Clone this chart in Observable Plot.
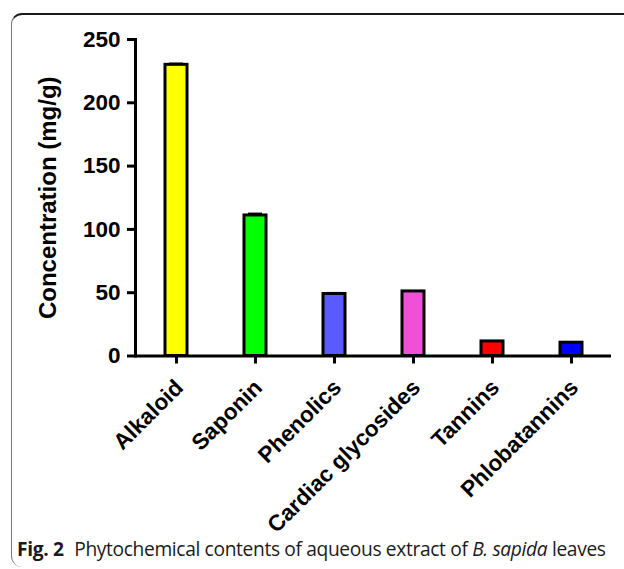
<!DOCTYPE html>
<html>
<head>
<meta charset="utf-8">
<script src="https://cdn.jsdelivr.net/npm/d3@7"></script>
<script src="https://cdn.jsdelivr.net/npm/@observablehq/plot@0.6"></script>
<style>
  html, body { margin: 0; padding: 0; background: #fff; }
  #wrap { position: relative; width: 624px; height: 569px; overflow: hidden; }
  #frame { position: absolute; left: 11px; top: 13px; width: 700px; height: 554px;
    border-top: 2px solid #1a1a1a; border-left: 1px solid #7a7a7a;
    border-top-left-radius: 11px; border-bottom-left-radius: 11px; box-sizing: border-box; }
  #chart { position: absolute; left: 0; top: 0; }
  #caption { position: absolute; left: 17px; top: 535px; font-family: "Open Sans", sans-serif;
    font-size: 19.2px; color: #1a1a1a; white-space: nowrap; letter-spacing: -0.35px; }
  #caption b { font-weight: 700; margin-right: 6px; }
</style>
</head>
<body>
<div id="wrap">
  <div id="frame"></div>
  <div id="chart"></div>
  <div id="caption"><b>Fig. 2</b> Phytochemical contents of aqueous extract of <i>B. sapida</i> leaves</div>
</div>
<script>
const categories = ["Alkaloid", "Saponin", "Phenolics", "Cardiac glycosides", "Tannins", "Phlobatannins"];
const values = [230, 111, 49, 51, 11.5, 10.5];
const errors = [1, 1.5, 0.8, 0, 0, 0];
const colors = ["#ffff00", "#00ff00", "#5a5aff", "#f050d8", "#ff0000", "#0000ff"];
const yTicks = [0, 50, 100, 150, 200, 250];
const yLabel = "Concentration (mg/g)";

const data = categories.map((c, i) => ({cat: c, v: values[i], e: errors[i], col: colors[i]}));
const errData = data.filter(d => d.e > 0);

const bw = 22, step = 476 / 6;
const pi = 1 - bw / step;

const chart = Plot.plot({
  width: 624,
  height: 545,
  marginLeft: 135,
  marginRight: 13,
  marginTop: 39,
  marginBottom: 189.5,
  style: {background: "transparent", fontFamily: "'Liberation Sans', Arial, sans-serif", fontWeight: "bold", color: "#000"},
  x: {type: "band", domain: categories, paddingInner: pi, paddingOuter: pi / 2, axis: null},
  y: {domain: [0, 250], axis: null},
  marks: [
    Plot.ruleX(errData, {x: "cat", y1: "v", y2: d => d.v + d.e, stroke: "#000", strokeWidth: 2}),
    Plot.tickY(errData, {x: "cat", y: d => d.v + d.e, stroke: "#000", strokeWidth: 2, insetLeft: 4, insetRight: 4}),
    Plot.barY(data, {x: "cat", y: "v", fill: "col", stroke: "#000", strokeWidth: 3}),
    Plot.frame({anchor: "left", stroke: "#000", strokeWidth: 3}),
    Plot.ruleY([0], {stroke: "#000", strokeWidth: 3}),
    Plot.axisY({ticks: yTicks, tickSize: 8, tickPadding: 7, strokeWidth: 3, fontSize: 22.5, fontWeight: "bold", fill: "#000", label: null}),
    Plot.axisX({tickSize: 8, strokeWidth: 3, text: null, label: null}),
    Plot.text(categories, {x: d => d, y: () => 0, text: d => d, rotate: -45, textAnchor: "end", lineAnchor: "bottom",
      dx: 8, dy: 33, fontSize: 22.5, fontWeight: "bold", fill: "#000"}),
    Plot.text([yLabel], {y: () => 125, frameAnchor: "left", text: d => d, rotate: -90, textAnchor: "middle",
      lineAnchor: "bottom", dx: -80, fontSize: 24, fontWeight: "bold", fill: "#000"})
  ]
});
document.getElementById("chart").appendChild(chart);
</script>
</body>
</html>
